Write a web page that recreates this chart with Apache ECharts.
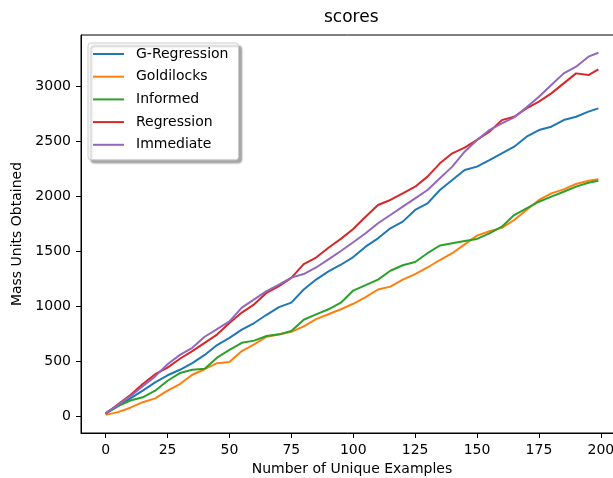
<!DOCTYPE html>
<html>
<head>
<meta charset="utf-8">
<script src="https://cdn.jsdelivr.net/npm/echarts@6/dist/echarts.min.js"></script>
<style>html,body{margin:0;padding:0;background:#fff;}#c{width:613px;height:478px;}</style>
</head>
<body>
<div id="c"></div>
<script>
const xs = [0,5,10,15,20,25,30,35,40,45,50,55,60,65,70,75,80,85,90,95,100,105,110,115,120,125,130,135,140,145,150,155,160,165,170,175,180,185,190,195,199];
const gRegression = [25,90,160,230,305,370,420,480,555,645,710,785,845,920,990,1030,1150,1240,1315,1375,1445,1539,1615,1706,1767,1873,1933,2055,2145,2236,2267,2327,2388,2448,2539,2600,2630,2691,2721,2767,2797];
const goldilocks = [10,35,75,125,160,230,290,375,425,480,490,590,650,720,740,765,815,880,925,970,1020,1080,1150,1176,1240,1290,1350,1418,1480,1560,1640,1680,1710,1782,1873,1964,2024,2060,2109,2139,2152];
const informed = [20,90,140,170,230,320,390,420,430,530,600,665,685,727,742,773,875,924,970,1030,1140,1190,1240,1320,1370,1400,1480,1550,1570,1590,1610,1660,1721,1827,1888,1948,1994,2039,2085,2121,2139];
const regression = [20,105,190,290,380,440,520,590,665,740,845,940,1015,1120,1180,1255,1380,1440,1530,1610,1700,1812,1918,1964,2024,2085,2176,2297,2388,2440,2510,2585,2690,2721,2797,2858,2933,3024,3115,3100,3152];
const immediate = [25,100,180,270,360,470,555,620,720,790,860,985,1060,1135,1195,1258,1290,1350,1424,1500,1580,1661,1752,1827,1903,1979,2055,2161,2267,2403,2509,2600,2661,2715,2806,2903,3009,3115,3176,3267,3303];
const seriesNames = ['G-Regression','Goldilocks','Informed','Regression','Immediate'];
const seriesValues = [gRegression, goldilocks, informed, regression, immediate];
const colors = ['#1f77b4','#ff7f0e','#2ca02c','#d62728','#9467bd'];
const xTicks = [0,25,50,75,100,125,150,175,200];
const yTicks = [0,500,1000,1500,2000,2500,3000];

const font = 'DejaVu Sans';
const chart = echarts.init(document.getElementById('c'), null, {renderer:'canvas'});
chart.setOption({
  animation: false,
  color: colors,
  title: {
    text: 'scores', left: 324, top: 9, padding: 0,
    textStyle: {fontFamily: font, fontSize: 17, fontWeight: 'normal', color: '#000'}
  },
  legend: {
    orient: 'vertical', left: 88, top: 43,
    padding: [3, 10, 7, 5],
    itemWidth: 31, itemHeight: 2, itemGap: 6.7, icon: 'rect',
    backgroundColor: '#fff', borderColor: '#cccccc', borderWidth: 1, borderRadius: 3,
    shadowColor: 'rgba(0,0,0,0.35)', shadowBlur: 2, shadowOffsetX: 3, shadowOffsetY: 3,
    textStyle: {fontFamily: font, fontSize: 14, color: '#000', lineHeight: 16, padding: [0,0,0,7]},
    data: seriesNames
  },
  grid: {left: 81, top: 35, width: 542, height: 398, show: true, borderColor: '#000', borderWidth: 1, containLabel: false, outerBoundsMode: 'none'},
  xAxis: {
    type: 'value', min: -9.95, max: 208.95,
    name: 'Number of Unique Examples', nameLocation: 'middle', nameGap: 29,
    nameTextStyle: {fontFamily: font, fontSize: 14, color: '#000'},
    axisLine: {show: true, onZero: false, lineStyle: {color: '#000'}},
    axisTick: {show: true, length: 5, customValues: xTicks, lineStyle: {color: '#000'}},
    axisLabel: {customValues: xTicks, margin: 10, fontFamily: font, fontSize: 14, color: '#000', formatter: v => String(v)},
    splitLine: {show: false}
  },
  yAxis: {
    type: 'value', min: -155, max: 3464,
    name: 'Mass Units Obtained', nameLocation: 'middle', nameGap: 56,
    nameTextStyle: {fontFamily: font, fontSize: 14, color: '#000'},
    axisLine: {show: true, onZero: false, lineStyle: {color: '#000'}},
    axisTick: {show: true, length: 5, customValues: yTicks, lineStyle: {color: '#000'}},
    axisLabel: {customValues: yTicks, margin: 10, fontFamily: font, fontSize: 14, color: '#000', formatter: v => String(v)},
    splitLine: {show: false}
  },
  series: seriesNames.map((n, i) => ({
    name: n, type: 'line', showSymbol: false, symbol: 'none',
    lineStyle: {width: 2, color: colors[i]},
    itemStyle: {color: colors[i]},
    data: xs.map((x, j) => [x, seriesValues[i][j]])
  }))
});
</script>
</body>
</html>
